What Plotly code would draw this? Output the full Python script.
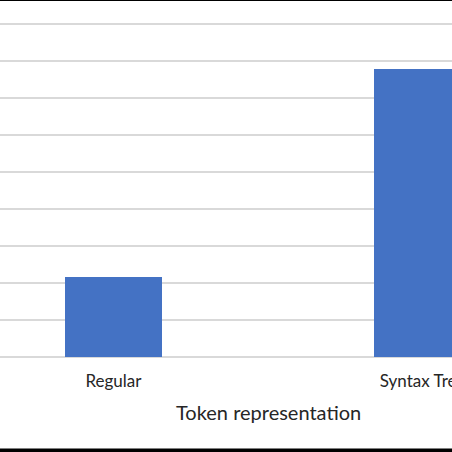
import plotly.graph_objects as go

categories = ["Regular", "Syntax Tree"]
values = [2.16, 7.78]
axis_title = "Token representation"

fig = go.Figure()
fig.add_trace(go.Bar(
    x=categories,
    y=values,
    marker=dict(color="#4472C4", line=dict(width=0)),
    width=0.314,
    showlegend=False,
))

# axis title sits centred on the (partly cropped) plot area
fig.add_annotation(
    x=0.5, xref="x", y=-0.155, yref="paper",
    text=axis_title, showarrow=False,
    font=dict(family="Lato", size=20, color="#262626"),
    xanchor="center", yanchor="middle",
)

# black page frame at top and bottom of the crop
fig.add_shape(type="line", xref="paper", yref="paper",
              x0=0, x1=1, y0=1.003, y1=1.003, line=dict(color="black", width=4))
fig.add_shape(type="line", xref="paper", yref="paper",
              x0=0, x1=1, y0=-0.262, y1=-0.262, line=dict(color="black", width=4))

fig.update_layout(
    width=452, height=452,
    margin=dict(l=0, r=0, t=0, b=95, autoexpand=False),
    plot_bgcolor="white", paper_bgcolor="white",
    bargap=0,
    xaxis=dict(
        range=[-0.367, 1.095], automargin=False,
        showgrid=False, showline=False, zeroline=False,
        ticks="", tickfont=dict(family="Lato", size=17, color="#262626"),
        ticklabelstandoff=12,
    ),
    yaxis=dict(
        range=[0, 357 / 37], automargin=False,
        dtick=1, showgrid=True, gridcolor="#D9D9D9", gridwidth=1.5,
        zeroline=True, zerolinecolor="#D9D9D9", zerolinewidth=1.5,
        showticklabels=False, ticks="", showline=False,
    ),
)

fix_page = (
    "document.body.style.margin='0';"
    "document.body.style.overflow='hidden';"
)
fig.write_html("out.html", config={"displayModeBar": False}, post_script=fix_page)
